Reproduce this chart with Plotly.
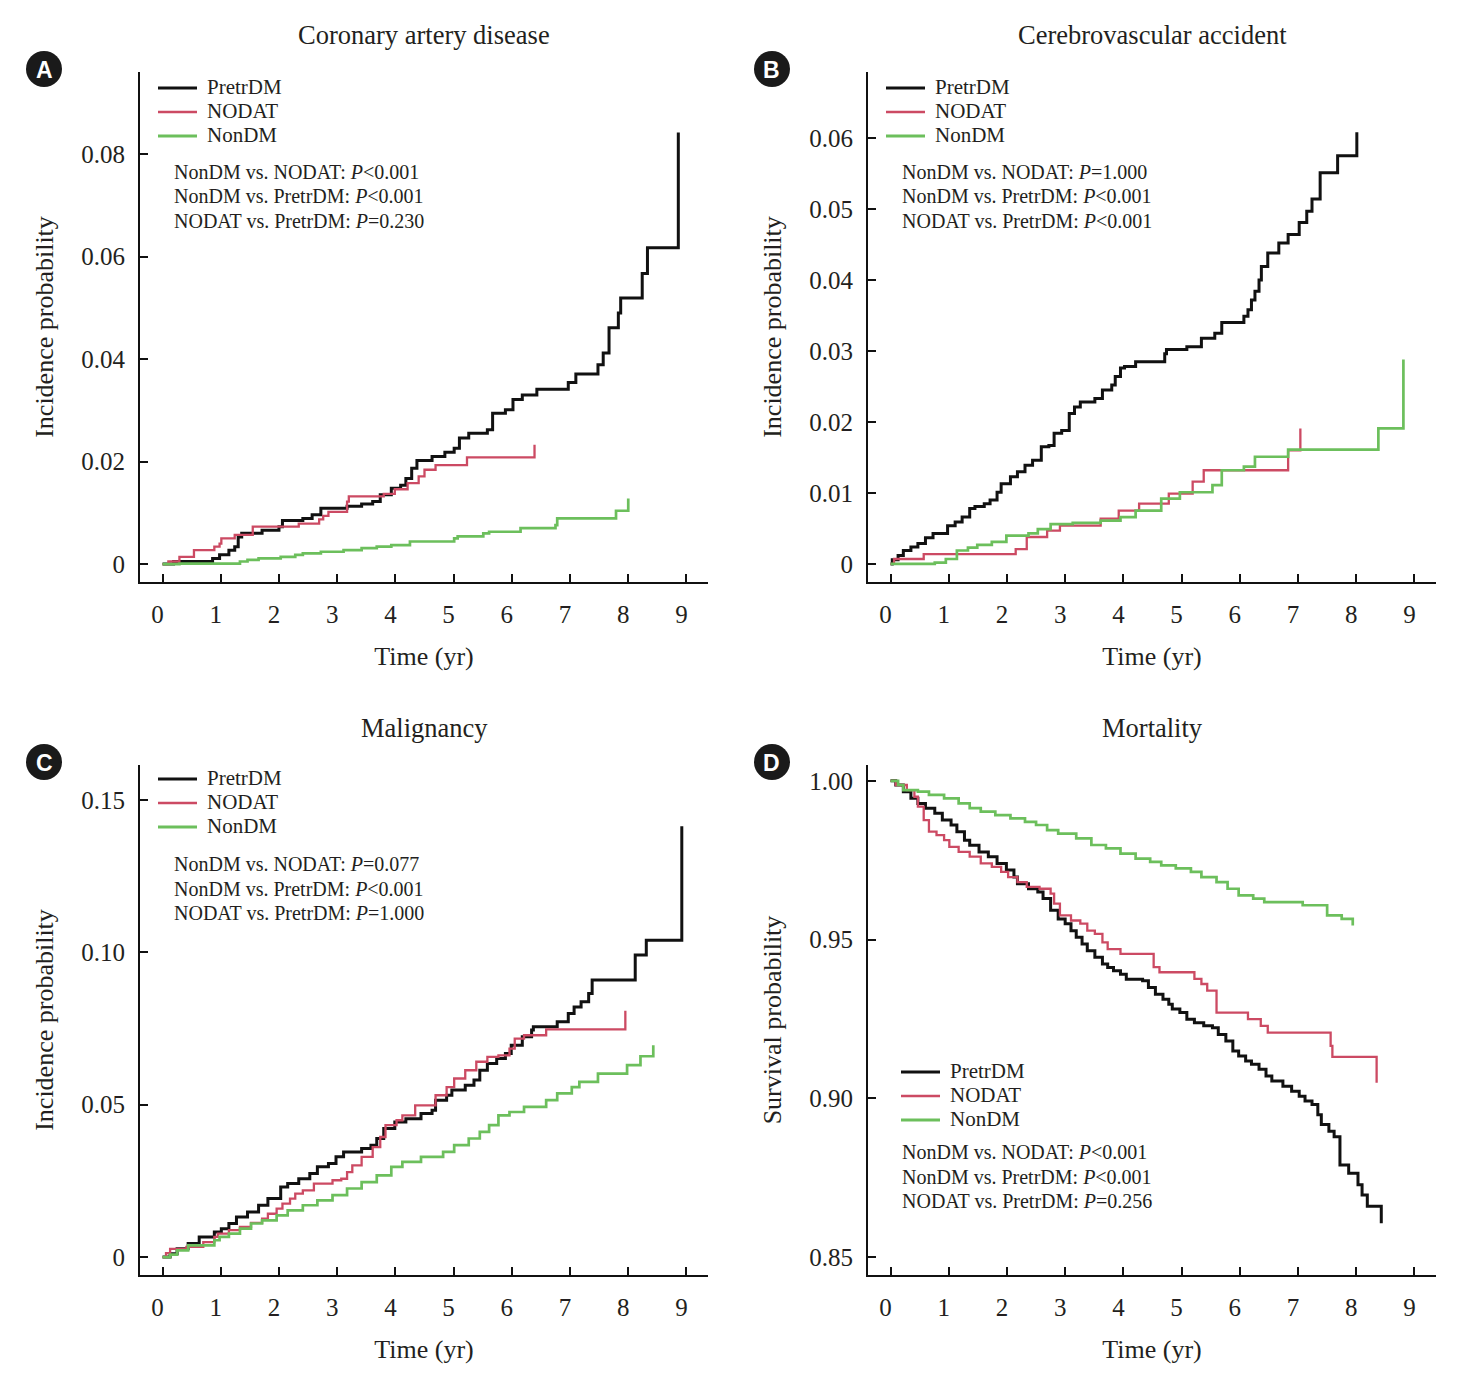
import plotly.graph_objects as go

W, H = 1459, 1379

# ---------------- data ----------------
time_ticks = [0, 1, 2, 3, 4, 5, 6, 7, 8, 9]
time_tick_text = ["0", "1", "2", "3", "4", "5", "6", "7", "8", "9"]

series_names = ["PretrDM", "NODAT", "NonDM"]

# A: Coronary artery disease (cumulative incidence)
cad_pretr_t = [0, 0.19, 0.86, 0.98, 1.14, 1.24, 1.30, 1.36, 1.71, 2.00, 2.06, 2.41, 2.57, 2.72, 3.17, 3.42,
               3.61, 3.74, 3.93, 4.09, 4.18, 4.28, 4.37, 4.63, 4.85, 5.01, 5.10, 5.26, 5.58, 5.67, 5.89,
               6.02, 6.18, 6.43, 6.97, 7.10, 7.48, 7.57, 7.67, 7.83, 7.87, 8.24, 8.33, 8.86]
cad_pretr_v = [0, 0.0005, 0.0011, 0.0018, 0.0027, 0.0034, 0.0053, 0.0060, 0.0066, 0.0073, 0.0085, 0.0089,
               0.0096, 0.0109, 0.0113, 0.0117, 0.0122, 0.0135, 0.0148, 0.0154, 0.0167, 0.0187, 0.0202,
               0.0210, 0.0218, 0.0226, 0.0246, 0.0255, 0.0262, 0.0294, 0.0301, 0.0321, 0.0330, 0.0341,
               0.0354, 0.0371, 0.0389, 0.0412, 0.0461, 0.0490, 0.0519, 0.0567, 0.0617, 0.0842]
cad_nodat_t = [0, 0.10, 0.29, 0.54, 0.89, 0.98, 1.01, 1.24, 1.55, 2.34, 2.69, 2.76, 2.85, 3.17, 3.20, 3.80,
               3.99, 4.21, 4.40, 4.50, 4.69, 5.23, 6.39]
cad_nodat_v = [0, 0.0005, 0.0014, 0.0027, 0.0034, 0.0040, 0.0050, 0.0057, 0.0073, 0.0079, 0.0087, 0.0094,
               0.0102, 0.0122, 0.0132, 0.0137, 0.0146, 0.0158, 0.0171, 0.0184, 0.0193, 0.0208, 0.0233]
cad_nondm_t = [0, 0.29, 1.33, 1.46, 1.65, 2.03, 2.28, 2.41, 2.72, 3.11, 3.42, 3.68, 3.93, 4.25, 5.01, 5.07,
               5.51, 5.61, 6.15, 6.75, 6.78, 7.79, 8.00]
cad_nondm_v = [0, 0.0001, 0.0005, 0.0008, 0.0011, 0.0014, 0.0018, 0.0021, 0.0024, 0.0027, 0.0031, 0.0034,
               0.0037, 0.0044, 0.0050, 0.0054, 0.0060, 0.0063, 0.0070, 0.0076, 0.0089, 0.0104, 0.0128]

# B: Cerebrovascular accident
cva_pretr_t = [0, 0.03, 0.13, 0.22, 0.35, 0.47, 0.60, 0.73, 0.98, 1.11, 1.23, 1.36, 1.45, 1.61, 1.71, 1.83,
               1.90, 2.06, 2.18, 2.31, 2.44, 2.59, 2.72, 2.81, 2.94, 3.07, 3.16, 3.26, 3.51, 3.64, 3.80,
               3.86, 3.95, 4.02, 4.21, 4.71, 4.74, 5.09, 5.34, 5.57, 5.69, 6.07, 6.14, 6.20, 6.26, 6.33,
               6.37, 6.48, 6.67, 6.83, 7.02, 7.15, 7.24, 7.38, 7.68, 8.01]
cva_pretr_v = [0, 0.0006, 0.0012, 0.0019, 0.0024, 0.0029, 0.0037, 0.0043, 0.0054, 0.0059, 0.0066, 0.0078,
               0.0081, 0.0085, 0.0090, 0.0101, 0.0113, 0.0123, 0.0130, 0.0139, 0.0146, 0.0165, 0.0167,
               0.0184, 0.0188, 0.0212, 0.0221, 0.0228, 0.0233, 0.0245, 0.0252, 0.0264, 0.0276, 0.0278,
               0.0285, 0.0296, 0.0302, 0.0306, 0.0318, 0.0325, 0.0340, 0.0349, 0.0358, 0.0372, 0.0384,
               0.0400, 0.0419, 0.0438, 0.0452, 0.0464, 0.0481, 0.0497, 0.0514, 0.0551, 0.0575, 0.0608]
cva_nodat_t = [0, 0.06, 0.57, 2.15, 2.34, 2.69, 2.91, 3.61, 3.92, 4.27, 4.78, 5.19, 5.38, 6.83, 7.04]
cva_nodat_v = [0, 0.0007, 0.0014, 0.0021, 0.0038, 0.0047, 0.0054, 0.0064, 0.0075, 0.0085, 0.0099, 0.0116,
               0.0132, 0.0160, 0.0191]
cva_nondm_t = [0, 0.76, 0.95, 1.14, 1.33, 1.49, 1.74, 1.99, 2.37, 2.53, 2.75, 3.13, 3.61, 3.95, 4.21, 4.65,
               4.97, 5.53, 5.69, 6.07, 6.26, 6.83, 8.38, 8.81]
cva_nondm_v = [0, 0.0002, 0.0007, 0.0019, 0.0023, 0.0027, 0.0031, 0.0040, 0.0043, 0.0049, 0.0056, 0.0058,
               0.0061, 0.0066, 0.0075, 0.0092, 0.0101, 0.0111, 0.0132, 0.0137, 0.0151, 0.0161, 0.0191, 0.0288]

# C: Malignancy
mal_pretr_t = [0, 0.13, 0.25, 0.44, 0.63, 0.89, 1.01, 1.14, 1.27, 1.46, 1.65, 1.81, 2.03, 2.15, 2.34, 2.53,
               2.66, 2.85, 2.98, 3.11, 3.42, 3.58, 3.68, 3.80, 3.99, 4.18, 4.44, 4.63, 4.69, 4.88, 4.97,
               5.20, 5.35, 5.45, 5.58, 5.74, 5.89, 5.99, 6.18, 6.34, 6.37, 6.78, 6.97, 7.07, 7.19, 7.32,
               7.38, 8.12, 8.31, 8.92]
mal_pretr_v = [0, 0.0011, 0.0027, 0.0044, 0.0066, 0.0082, 0.0093, 0.0110, 0.0131, 0.0148, 0.0170, 0.0192,
               0.0230, 0.0241, 0.0257, 0.0274, 0.0296, 0.0307, 0.0329, 0.0345, 0.0356, 0.0367, 0.0389,
               0.0422, 0.0443, 0.0454, 0.0471, 0.0482, 0.0515, 0.0531, 0.0548, 0.0564, 0.0581, 0.0613,
               0.0635, 0.0652, 0.0668, 0.0695, 0.0723, 0.0745, 0.0756, 0.0772, 0.0799, 0.0821, 0.0838,
               0.0865, 0.0909, 0.0991, 0.1040, 0.1414]
mal_nodat_t = [0, 0.06, 0.13, 0.41, 0.70, 0.89, 0.95, 1.14, 1.33, 1.52, 1.71, 1.81, 1.96, 2.06, 2.19, 2.28,
               2.41, 2.60, 2.92, 3.07, 3.17, 3.26, 3.42, 3.61, 3.74, 3.83, 4.02, 4.12, 4.34, 4.69, 4.88,
               5.01, 5.20, 5.39, 5.58, 5.77, 5.96, 6.05, 6.21, 6.59, 7.95]
mal_nodat_v = [0, 0.0013, 0.0027, 0.0033, 0.0049, 0.0066, 0.0077, 0.0088, 0.0099, 0.0112, 0.0126, 0.0142,
               0.0159, 0.0175, 0.0192, 0.0208, 0.0219, 0.0241, 0.0252, 0.0257, 0.0279, 0.0301, 0.0329,
               0.0361, 0.0394, 0.0433, 0.0449, 0.0465, 0.0498, 0.0531, 0.0558, 0.0586, 0.0613, 0.0641,
               0.0657, 0.0662, 0.0684, 0.0717, 0.0728, 0.0747, 0.0808]
mal_nondm_t = [0, 0.13, 0.25, 0.44, 0.89, 0.98, 1.14, 1.33, 1.52, 1.71, 1.96, 2.15, 2.41, 2.66, 2.92, 3.17,
               3.42, 3.68, 3.93, 4.12, 4.44, 4.82, 5.01, 5.26, 5.45, 5.61, 5.77, 5.96, 6.21, 6.59, 6.78,
               7.03, 7.16, 7.48, 7.98, 8.21, 8.43]
mal_nondm_v = [0, 0.0008, 0.0022, 0.0038, 0.0055, 0.0066, 0.0077, 0.0093, 0.0110, 0.0120, 0.0137, 0.0153,
               0.0170, 0.0186, 0.0203, 0.0225, 0.0246, 0.0268, 0.0296, 0.0312, 0.0329, 0.0345, 0.0367,
               0.0389, 0.0411, 0.0433, 0.0465, 0.0476, 0.0493, 0.0515, 0.0537, 0.0558, 0.0575, 0.0602,
               0.0630, 0.0659, 0.0695]

# D: Mortality (survival probability)
mor_pretr_t = [0, 0.09, 0.22, 0.35, 0.47, 0.60, 0.76, 0.89, 1.04, 1.14, 1.27, 1.36, 1.52, 1.68, 1.83, 1.99,
               2.12, 2.18, 2.37, 2.53, 2.62, 2.75, 2.88, 3.00, 3.10, 3.19, 3.29, 3.38, 3.51, 3.64, 3.73,
               3.83, 3.95, 4.05, 4.33, 4.43, 4.55, 4.68, 4.78, 4.84, 4.97, 5.09, 5.22, 5.38, 5.53, 5.63,
               5.76, 5.88, 5.98, 6.10, 6.20, 6.33, 6.45, 6.55, 6.74, 6.89, 7.02, 7.12, 7.24, 7.34, 7.40,
               7.53, 7.62, 7.72, 7.87, 8.03, 8.10, 8.19, 8.43]
mor_pretr_v = [1.0, 0.9987, 0.9966, 0.9945, 0.9929, 0.9914, 0.9898, 0.9877, 0.9861, 0.9840, 0.9813, 0.9797,
               0.9776, 0.9761, 0.9740, 0.9719, 0.9697, 0.9676, 0.9660, 0.9650, 0.9629, 0.9592, 0.9565,
               0.9550, 0.9528, 0.9507, 0.9486, 0.9465, 0.9444, 0.9423, 0.9412, 0.9402, 0.9391, 0.9375,
               0.9370, 0.9349, 0.9328, 0.9312, 0.9296, 0.9281, 0.9270, 0.9249, 0.9238, 0.9228, 0.9222,
               0.9201, 0.9180, 0.9149, 0.9133, 0.9117, 0.9107, 0.9091, 0.9070, 0.9054, 0.9038, 0.9022,
               0.9006, 0.8991, 0.8980, 0.8948, 0.8917, 0.8896, 0.8879, 0.8790, 0.8764, 0.8727, 0.8695,
               0.8660, 0.8606]
mor_nodat_t = [0, 0.09, 0.28, 0.41, 0.47, 0.57, 0.66, 0.79, 0.92, 1.01, 1.17, 1.36, 1.55, 1.74, 1.90, 2.02,
               2.18, 2.34, 2.56, 2.75, 2.81, 2.91, 3.10, 3.26, 3.38, 3.51, 3.64, 3.73, 3.95, 4.52, 4.62,
               5.22, 5.34, 5.44, 5.60, 6.14, 6.36, 6.48, 7.56, 7.59, 8.35]
mor_nodat_v = [1.0, 0.9987, 0.9971, 0.9950, 0.9919, 0.9876, 0.9840, 0.9829, 0.9813, 0.9792, 0.9776, 0.9761,
               0.9740, 0.9729, 0.9713, 0.9697, 0.9681, 0.9666, 0.9660, 0.9645, 0.9613, 0.9576, 0.9560,
               0.9550, 0.9528, 0.9518, 0.9491, 0.9470, 0.9455, 0.9413, 0.9397, 0.9376, 0.9360, 0.9339,
               0.9270, 0.9249, 0.9228, 0.9207, 0.9165, 0.9130, 0.9049]
mor_nondm_t = [0, 0.13, 0.22, 0.47, 0.66, 0.92, 1.17, 1.36, 1.55, 1.80, 2.06, 2.31, 2.50, 2.69, 2.88, 3.19,
               3.45, 3.70, 3.95, 4.21, 4.46, 4.65, 4.90, 5.16, 5.34, 5.60, 5.79, 5.98, 6.23, 6.42, 7.08,
               7.50, 7.75, 7.94]
mor_nondm_v = [1.0, 0.9987, 0.9971, 0.9966, 0.9956, 0.9945, 0.9929, 0.9914, 0.9903, 0.9892, 0.9882, 0.9871,
               0.9861, 0.9845, 0.9834, 0.9819, 0.9798, 0.9787, 0.9771, 0.9755, 0.9745, 0.9734, 0.9724,
               0.9713, 0.9697, 0.9681, 0.9660, 0.9639, 0.9629, 0.9618, 0.9608, 0.9576, 0.9565, 0.9544]

cad_yticks = [0, 0.02, 0.04, 0.06, 0.08]
cad_yticktext = ["0", "0.02", "0.04", "0.06", "0.08"]
cva_yticks = [0, 0.01, 0.02, 0.03, 0.04, 0.05, 0.06]
cva_yticktext = ["0", "0.01", "0.02", "0.03", "0.04", "0.05", "0.06"]
mal_yticks = [0, 0.05, 0.10, 0.15]
mal_yticktext = ["0", "0.05", "0.10", "0.15"]
mor_yticks = [0.85, 0.90, 0.95, 1.00]
mor_yticktext = ["0.85", "0.90", "0.95", "1.00"]

cad_pvals = ["NonDM vs. NODAT: <i>P</i>&lt;0.001", "NonDM vs. PretrDM: <i>P</i>&lt;0.001",
             "NODAT vs. PretrDM: <i>P</i>=0.230"]
cva_pvals = ["NonDM vs. NODAT: <i>P</i>=1.000", "NonDM vs. PretrDM: <i>P</i>&lt;0.001",
             "NODAT vs. PretrDM: <i>P</i>&lt;0.001"]
mal_pvals = ["NonDM vs. NODAT: <i>P</i>=0.077", "NonDM vs. PretrDM: <i>P</i>&lt;0.001",
             "NODAT vs. PretrDM: <i>P</i>=1.000"]
mor_pvals = ["NonDM vs. NODAT: <i>P</i>&lt;0.001", "NonDM vs. PretrDM: <i>P</i>&lt;0.001",
             "NODAT vs. PretrDM: <i>P</i>=0.256"]

# ---------------- styling ----------------
COLORS = ["#111111", "#cc4a63", "#6cbf5c"]
WIDTHS = [3.0, 2.3, 2.7]
LEG_WIDTHS = [3.0, 2.6, 3.0]
SERIF = "Liberation Serif, Times New Roman, serif"
TXT = "#231f20"
OFF = 8  # page body margin of the browser


def px(x):
    return (x - OFF) / W


def py(y):
    return 1 - (y - OFF) / H


panels = [
    dict(title="Coronary artery disease", badge="A", ytitle="Incidence probability",
         xl=140, xr=708, yt=72, yb=582, yrange=[-0.0035, 0.096],
         yticks=cad_yticks, ytt=cad_yticktext, pvals=cad_pvals,
         data=[(cad_pretr_t, cad_pretr_v), (cad_nodat_t, cad_nodat_v), (cad_nondm_t, cad_nondm_v)],
         leg=(158, 88), pv=(172, 172)),
    dict(title="Cerebrovascular accident", badge="B", ytitle="Incidence probability",
         xl=868, xr=1436, yt=72, yb=582, yrange=[-0.00254, 0.0693],
         yticks=cva_yticks, ytt=cva_yticktext, pvals=cva_pvals,
         data=[(cva_pretr_t, cva_pretr_v), (cva_nodat_t, cva_nodat_v), (cva_nondm_t, cva_nondm_v)],
         leg=(886, 88), pv=(900, 172)),
    dict(title="Malignancy", badge="C", ytitle="Incidence probability",
         xl=140, xr=708, yt=765, yb=1275, yrange=[-0.0059, 0.1615],
         yticks=mal_yticks, ytt=mal_yticktext, pvals=mal_pvals,
         data=[(mal_pretr_t, mal_pretr_v), (mal_nodat_t, mal_nodat_v), (mal_nondm_t, mal_nondm_v)],
         leg=(158, 779), pv=(172, 864)),
    dict(title="Mortality", badge="D", ytitle="Survival probability",
         xl=868, xr=1436, yt=765, yb=1275, yrange=[0.8443, 1.005],
         yticks=mor_yticks, ytt=mor_yticktext, pvals=mor_pvals,
         data=[(mor_pretr_t, mor_pretr_v), (mor_nodat_t, mor_nodat_v), (mor_nondm_t, mor_nondm_v)],
         leg=(901, 1072), pv=(900, 1152)),
]

fig = go.Figure()
shapes = []
annotations = []
layout = {}

for i, p in enumerate(panels):
    n = "" if i == 0 else str(i + 1)
    for (t, v), name, c, w in zip(p["data"], series_names, COLORS, WIDTHS):
        fig.add_trace(go.Scatter(x=t, y=v, mode="lines", name=name, showlegend=False,
                                 line=dict(shape="hv", color=c, width=w),
                                 xaxis="x" + n, yaxis="y" + n))
    common = dict(showline=True, linecolor="#111111", linewidth=2, ticks="inside", ticklen=8,
                  tickwidth=2, tickcolor="#111111", showgrid=False, zeroline=False,
                  tickfont=dict(family=SERIF, size=25, color=TXT))
    layout["xaxis" + n] = dict(common, domain=[px(p["xl"]), px(p["xr"])], range=[-0.387, 9.37],
                               anchor="y" + n, tickvals=time_ticks, ticktext=time_tick_text,
                               ticklabelstandoff=9, ticklabelshift=-5,
                               title=dict(text="Time (yr)", standoff=20,
                                          font=dict(family=SERIF, size=26, color=TXT)))
    layout["yaxis" + n] = dict(common, domain=[py(p["yb"]), py(p["yt"])], range=p["yrange"],
                               anchor="x" + n, tickvals=p["yticks"], ticktext=p["ytt"],
                               ticklabelstandoff=8,
                               title=dict(text=p["ytitle"], standoff=20,
                                          font=dict(family=SERIF, size=26, color=TXT)))
    cx = (p["xl"] + p["xr"]) / 2
    # panel title
    annotations.append(dict(text=p["title"], x=px(cx), y=py(p["yt"] - 37), xref="paper", yref="paper",
                            showarrow=False, xanchor="center", yanchor="middle",
                            font=dict(family=SERIF, size=26.5, color=TXT)))
    # badge
    bx, by = p["xl"] - 96, p["yt"] - 3
    shapes.append(dict(type="circle", xref="paper", yref="paper", x0=px(bx - 18), x1=px(bx + 18),
                       y0=py(by + 18), y1=py(by - 18), fillcolor="#1a1a1a", line=dict(width=0)))
    annotations.append(dict(text="<b>" + p["badge"] + "</b>", x=px(bx), y=py(by + 1), xref="paper",
                            yref="paper", showarrow=False, xanchor="center", yanchor="middle",
                            font=dict(family="Liberation Sans, Arial, sans-serif", size=23,
                                      color="white")))
    # legend (manual)
    lx, ly = p["leg"]
    for k, (name, c, lw) in enumerate(zip(series_names, COLORS, LEG_WIDTHS)):
        yy = ly + 24 * k
        shapes.append(dict(type="line", xref="paper", yref="paper", x0=px(lx), x1=px(lx + 39),
                           y0=py(yy), y1=py(yy), line=dict(color=c, width=lw)))
        annotations.append(dict(text=name, x=px(lx + 47), y=py(yy - 1), xref="paper", yref="paper",
                                showarrow=False, xanchor="left", yanchor="middle",
                                font=dict(family=SERIF, size=21, color=TXT)))
    # p-values
    vx, vy = p["pv"]
    for k, s in enumerate(p["pvals"]):
        annotations.append(dict(text=s, x=px(vx), y=py(vy + 24.5 * k), xref="paper", yref="paper",
                                showarrow=False, xanchor="left", yanchor="middle",
                                font=dict(family=SERIF, size=20, color=TXT)))

fig.update_layout(**layout)
fig.update_layout(width=W, height=H, margin=dict(l=0, r=0, t=0, b=0),
                  paper_bgcolor="white", plot_bgcolor="white", showlegend=False,
                  shapes=shapes, annotations=annotations)

fig.write_html("out.html")
